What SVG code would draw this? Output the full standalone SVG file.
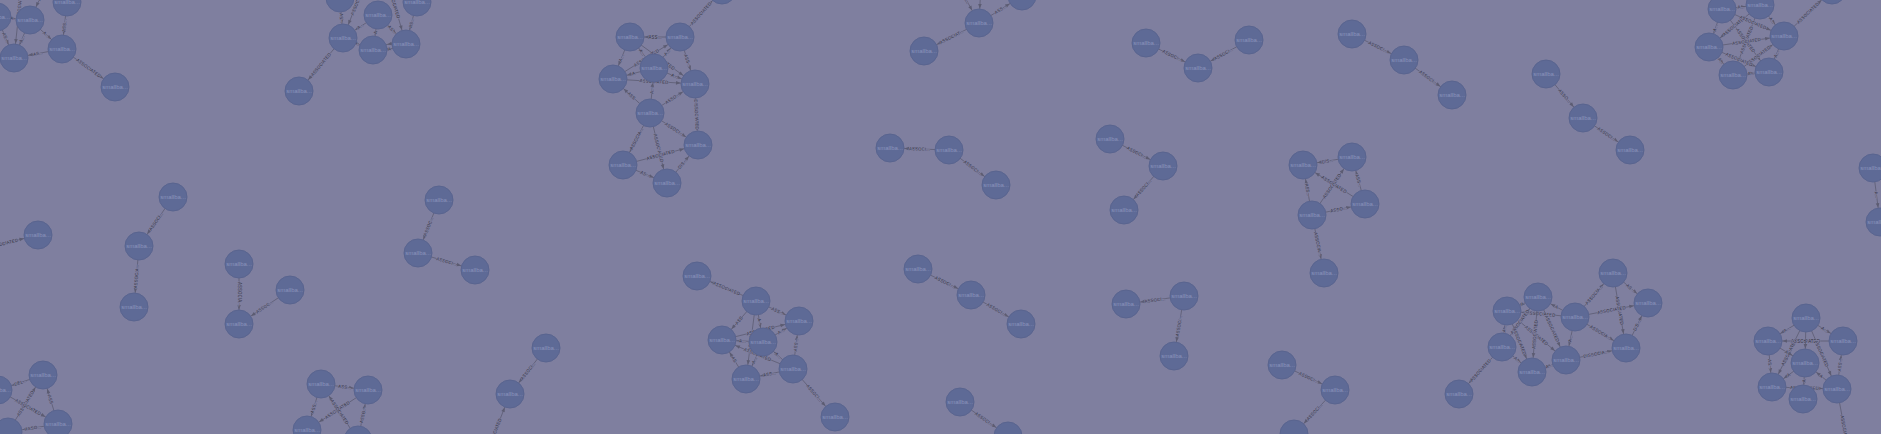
<svg xmlns="http://www.w3.org/2000/svg" width="1881" height="434" viewBox="0 0 1881 434">
<style>
.ln{fill:none;stroke:#5c5c72;stroke-width:0.8}
.el{font-family:"Liberation Sans",Arial,sans-serif;font-size:4.5px;fill:#33333f;text-anchor:middle;stroke:#7f7f9f;stroke-width:1.4px;paint-order:stroke}
.nd circle{fill:#5e6a96;stroke:#59648f;stroke-width:1}
.nd text{font-family:"Liberation Sans",Arial,sans-serif;font-size:6px;fill:#8b94bc;text-anchor:middle}
</style>
<defs>
<marker id="a" markerUnits="userSpaceOnUse" markerWidth="30" markerHeight="10" refX="19" refY="0" orient="auto-start-reverse" style="overflow:visible"><path d="M0,-1.8 L4.5,0 L0,1.8 z" fill="#5c5c72"/></marker>
</defs>
<rect x="0" y="0" width="1881" height="434" fill="#7f7f9f"/>
<g id="connectors">
<path id="e1" class="ln" d="M62 49 L115 87" marker-end="url(#a)"/><text class="el" dy="1.5"><textPath href="#e1" startOffset="50%">ASSOCIATED</textPath></text>
<path id="e2" class="ln" d="M14 58 L62 49" marker-start="url(#a)"/><text class="el" dy="1.5"><textPath href="#e2" startOffset="50%">AS...</textPath></text>
<path id="e3" class="ln" d="M62 49 L67 2" marker-start="url(#a)"/><text class="el" dy="1.5"><textPath href="#e3" startOffset="50%">ASS...</textPath></text>
<path id="e4" class="ln" d="M14 58 L30 20" marker-start="url(#a)"/><text class="el" dy="1.5"><textPath href="#e4" startOffset="50%">A...</textPath></text>
<path id="e5" class="ln" d="M30 20 L62 49" marker-end="url(#a)"/><text class="el" dy="1.5"><textPath href="#e5" startOffset="50%">A...</textPath></text>
<path id="e6" class="ln" d="M-3 17 L14 58" marker-end="url(#a)"/><text class="el" dy="1.5"><textPath href="#e6" startOffset="50%">AS...</textPath></text>
<path id="e7" class="ln" d="M-3 17 L30 20" marker-end="url(#a)"/><text class="el" dy="1.5"><textPath href="#e7" startOffset="50%">A...</textPath></text>
<path id="e8" class="ln" d="M14 58 L25 -45" marker-start="url(#a)"/><text class="el" dy="1.5"><textPath href="#e8" startOffset="50%">ASSOCIATED</textPath></text>
<path id="e9" class="ln" d="M30 20 L60 -45" marker-start="url(#a)"/><text class="el" dy="1.5"><textPath href="#e9" startOffset="50%">ASSOCIATED</textPath></text>
<path id="e10" class="ln" d="M299 91 L343 38" marker-start="url(#a)"/><text class="el" dy="1.5"><textPath href="#e10" startOffset="50%">ASSOCIATED</textPath></text>
<path id="e11" class="ln" d="M340 -2 L343 38" marker-end="url(#a)"/><text class="el" dy="1.5"><textPath href="#e11" startOffset="50%">AS...</textPath></text>
<path id="e12" class="ln" d="M343 38 L378 15" marker-start="url(#a)"/><text class="el" dy="1.5"><textPath href="#e12" startOffset="50%">A...</textPath></text>
<path id="e13" class="ln" d="M373 50 L378 15" marker-start="url(#a)"/><text class="el" dy="1.5"><textPath href="#e13" startOffset="50%">A</textPath></text>
<path id="e14" class="ln" d="M343 38 L373 50" marker-end="url(#a)"/><text class="el" dy="1.5"><textPath href="#e14" startOffset="50%">A...</textPath></text>
<path id="e15" class="ln" d="M383 -35 L406 44" marker-end="url(#a)"/><text class="el" dy="1.5"><textPath href="#e15" startOffset="50%">ASSOCIATED</textPath></text>
<path id="e16" class="ln" d="M406 44 L417 2" marker-start="url(#a)"/><text class="el" dy="1.5"><textPath href="#e16" startOffset="50%">AS...</textPath></text>
<path id="e17" class="ln" d="M373 52 L406 46" marker-end="url(#a)"/><text class="el" dy="1.5"><textPath href="#e17" startOffset="50%">A</textPath></text>
<path id="e18" class="ln" d="M373 47 L406 41" marker-start="url(#a)"/>
<path id="e19" class="ln" d="M343 38 L372 -35" marker-start="url(#a)"/><text class="el" dy="1.5"><textPath href="#e19" startOffset="50%">ASSOCIATED</textPath></text>
<path id="e19b" class="ln" d="M378 15 L406 44" marker-end="url(#a)"/><text class="el" dy="1.5"><textPath href="#e19b" startOffset="50%">AS...</textPath></text>
<path id="e20" class="ln" d="M630 37 L680 37" marker-start="url(#a)"/><text class="el" dy="1.5"><textPath href="#e20" startOffset="50%">ASS...</textPath></text>
<path id="e21" class="ln" d="M680 37 L722 -10" marker-end="url(#a)"/><text class="el" dy="1.5"><textPath href="#e21" startOffset="50%">ASSOCIATED</textPath></text>
<path id="e22" class="ln" d="M680 37 L695 84" marker-end="url(#a)"/><text class="el" dy="1.5"><textPath href="#e22" startOffset="50%">ASS...</textPath></text>
<path id="e23" class="ln" d="M613 79 L630 37" marker-start="url(#a)"/><text class="el" dy="1.5"><textPath href="#e23" startOffset="50%">A...</textPath></text>
<path id="e24" class="ln" d="M630 37 L654 68" marker-start="url(#a)"/><text class="el" dy="1.5"><textPath href="#e24" startOffset="50%">A...</textPath></text>
<path id="e25" class="ln" d="M613 79 L654 68" marker-start="url(#a)"/><text class="el" dy="1.5"><textPath href="#e25" startOffset="50%">A</textPath></text>
<path id="e26" class="ln" d="M654 68 L695 84" marker-end="url(#a)"/><text class="el" dy="1.5"><textPath href="#e26" startOffset="50%">A...</textPath></text>
<path id="e27" class="ln" d="M654 68 L680 37" marker-end="url(#a)"/><text class="el" dy="1.5"><textPath href="#e27" startOffset="50%">A...</textPath></text>
<path id="e28" class="ln" d="M613 79 L650 113" marker-start="url(#a)"/><text class="el" dy="1.5"><textPath href="#e28" startOffset="50%">ASS</textPath></text>
<path id="e29" class="ln" d="M650 113 L695 84" marker-end="url(#a)"/><text class="el" dy="1.5"><textPath href="#e29" startOffset="50%">ASSO...</textPath></text>
<path id="e30" class="ln" d="M650 113 L654 68" marker-end="url(#a)"/><text class="el" dy="1.5"><textPath href="#e30" startOffset="50%">A...</textPath></text>
<path id="e31" class="ln" d="M695 84 L698 145" marker-end="url(#a)"/><text class="el" dy="1.5"><textPath href="#e31" startOffset="50%">DISSOCIATED</textPath></text>
<path id="e32" class="ln" d="M650 113 L698 145" marker-end="url(#a)"/><text class="el" dy="1.5"><textPath href="#e32" startOffset="50%">ASSOCI...</textPath></text>
<path id="e33" class="ln" d="M623 165 L650 113" marker-start="url(#a)"/><text class="el" dy="1.5"><textPath href="#e33" startOffset="50%">ASSOCIA...</textPath></text>
<path id="e34" class="ln" d="M650 113 L667 183" marker-end="url(#a)"/><text class="el" dy="1.5"><textPath href="#e34" startOffset="50%">ASSOCIATED</textPath></text>
<path id="e35" class="ln" d="M623 165 L698 145" marker-end="url(#a)"/><text class="el" dy="1.5"><textPath href="#e35" startOffset="50%">ASSOCIATED</textPath></text>
<path id="e36" class="ln" d="M623 165 L667 183" marker-end="url(#a)"/><text class="el" dy="1.5"><textPath href="#e36" startOffset="50%">AS...</textPath></text>
<path id="e37" class="ln" d="M667 183 L698 145" marker-end="url(#a)"/><text class="el" dy="1.5"><textPath href="#e37" startOffset="50%">DIS...</textPath></text>
<path id="e38" class="ln" d="M613 79 L680 37" marker-end="url(#a)"/><text class="el" dy="1.5"><textPath href="#e38" startOffset="50%">ASSOCIATED</textPath></text>
<path id="e39" class="ln" d="M613 79 L695 84" marker-end="url(#a)"/><text class="el" dy="1.5"><textPath href="#e39" startOffset="50%">ASSOCIATED</textPath></text>
<path id="e39b" class="ln" d="M630 37 L695 84" marker-end="url(#a)"/><text class="el" dy="1.5"><textPath href="#e39b" startOffset="50%">ASSOCIATED</textPath></text>
<path id="e40" class="ln" d="M924 51 L979 23" marker-start="url(#a)"/><text class="el" dy="1.5"><textPath href="#e40" startOffset="50%">ASSOCIAT...</textPath></text>
<path id="e41" class="ln" d="M979 23 L1022 -4" marker-end="url(#a)"/><text class="el" dy="1.5"><textPath href="#e41" startOffset="50%">ASS...</textPath></text>
<path id="e42" class="ln" d="M979 23 L982 -35" marker-start="url(#a)"/><text class="el" dy="1.5"><textPath href="#e42" startOffset="50%">A...</textPath></text>
<path id="e43" class="ln" d="M950 -30 L979 23" marker-end="url(#a)"/><text class="el" dy="1.5"><textPath href="#e43" startOffset="50%">ASSO...</textPath></text>
<path id="e44" class="ln" d="M1146 43 L1198 68" marker-end="url(#a)"/><text class="el" dy="1.5"><textPath href="#e44" startOffset="50%">ASSOCI...</textPath></text>
<path id="e45" class="ln" d="M1198 68 L1249 40" marker-start="url(#a)"/><text class="el" dy="1.5"><textPath href="#e45" startOffset="50%">ASSOCI...</textPath></text>
<path id="e46" class="ln" d="M1352 34 L1404 60" marker-end="url(#a)"/><text class="el" dy="1.5"><textPath href="#e46" startOffset="50%">ASSOCI...</textPath></text>
<path id="e47" class="ln" d="M1404 60 L1452 95" marker-end="url(#a)"/><text class="el" dy="1.5"><textPath href="#e47" startOffset="50%">ASSOCI...</textPath></text>
<path id="e48" class="ln" d="M1546 74 L1583 118" marker-end="url(#a)"/><text class="el" dy="1.5"><textPath href="#e48" startOffset="50%">ASSO...</textPath></text>
<path id="e49" class="ln" d="M1583 118 L1630 150" marker-end="url(#a)"/><text class="el" dy="1.5"><textPath href="#e49" startOffset="50%">ASSOCI...</textPath></text>
<path id="e50" class="ln" d="M1722 9 L1760 5" marker-end="url(#a)"/><text class="el" dy="1.5"><textPath href="#e50" startOffset="50%">A...</textPath></text>
<path id="e51" class="ln" d="M1709 47 L1722 9" marker-start="url(#a)"/><text class="el" dy="1.5"><textPath href="#e51" startOffset="50%">A...</textPath></text>
<path id="e52" class="ln" d="M1769 72 L1784 36" marker-start="url(#a)"/><text class="el" dy="1.5"><textPath href="#e52" startOffset="50%">A...</textPath></text>
<path id="e53" class="ln" d="M1709 47 L1733 75" marker-end="url(#a)"/><text class="el" dy="1.5"><textPath href="#e53" startOffset="50%">A...</textPath></text>
<path id="e54" class="ln" d="M1733 75 L1769 72" marker-end="url(#a)"/><text class="el" dy="1.5"><textPath href="#e54" startOffset="50%">A...</textPath></text>
<path id="e55" class="ln" d="M1784 36 L1832 -10" marker-end="url(#a)"/><text class="el" dy="1.5"><textPath href="#e55" startOffset="50%">ASSOCIATED</textPath></text>
<path id="e56" class="ln" d="M1733 75 L1760 5" marker-start="url(#a)"/><text class="el" dy="1.5"><textPath href="#e56" startOffset="50%">ASSOCIATED</textPath></text>
<path id="e57" class="ln" d="M1722 9 L1769 72" marker-end="url(#a)"/><text class="el" dy="1.5"><textPath href="#e57" startOffset="50%">ASSOCIATED</textPath></text>
<path id="e58" class="ln" d="M1709 47 L1784 36" marker-end="url(#a)"/><text class="el" dy="1.5"><textPath href="#e58" startOffset="50%">ASSOCIATED</textPath></text>
<path id="e59" class="ln" d="M1709 47 L1760 5" marker-start="url(#a)"/><text class="el" dy="1.5"><textPath href="#e59" startOffset="50%">ASSOCIATED</textPath></text>
<path id="e60" class="ln" d="M1722 9 L1784 36" marker-end="url(#a)"/><text class="el" dy="1.5"><textPath href="#e60" startOffset="50%">ASSOCIATED</textPath></text>
<path id="e61" class="ln" d="M1733 75 L1784 36" marker-end="url(#a)"/><text class="el" dy="1.5"><textPath href="#e61" startOffset="50%">ASSOCIATED</textPath></text>
<path id="e62" class="ln" d="M1709 47 L1769 72" marker-end="url(#a)"/><text class="el" dy="1.5"><textPath href="#e62" startOffset="50%">ASSOCIATED</textPath></text>
<path id="e63" class="ln" d="M1760 5 L1784 36" marker-end="url(#a)"/><text class="el" dy="1.5"><textPath href="#e63" startOffset="50%">A...</textPath></text>
<path id="e64" class="ln" d="M1873 168 L1880 222" marker-end="url(#a)"/><text class="el" dy="1.5"><textPath href="#e64" startOffset="50%">A...</textPath></text>
<path id="e65" class="ln" d="M-30 252 L38 235" marker-end="url(#a)"/><text class="el" dy="1.5"><textPath href="#e65" startOffset="50%">ASSOCIATED</textPath></text>
<path id="e66" class="ln" d="M139 246 L173 197" marker-start="url(#a)"/><text class="el" dy="1.5"><textPath href="#e66" startOffset="50%">ASSOCI...</textPath></text>
<path id="e67" class="ln" d="M134 307 L139 246" marker-start="url(#a)"/><text class="el" dy="1.5"><textPath href="#e67" startOffset="50%">ASSOCIA...</textPath></text>
<path id="e68" class="ln" d="M239 264 L239 324" marker-end="url(#a)"/><text class="el" dy="1.5"><textPath href="#e68" startOffset="50%">ASSOCIA...</textPath></text>
<path id="e69" class="ln" d="M239 324 L290 290" marker-start="url(#a)"/><text class="el" dy="1.5"><textPath href="#e69" startOffset="50%">ASSOC...</textPath></text>
<path id="e70" class="ln" d="M418 253 L439 200" marker-start="url(#a)"/><text class="el" dy="1.5"><textPath href="#e70" startOffset="50%">ASSOC...</textPath></text>
<path id="e71" class="ln" d="M418 253 L475 270" marker-end="url(#a)"/><text class="el" dy="1.5"><textPath href="#e71" startOffset="50%">ASSOCI...</textPath></text>
<path id="e72" class="ln" d="M890 148 L949 150" marker-start="url(#a)"/><text class="el" dy="1.5"><textPath href="#e72" startOffset="50%">ASSOCI...</textPath></text>
<path id="e73" class="ln" d="M949 150 L996 185" marker-end="url(#a)"/><text class="el" dy="1.5"><textPath href="#e73" startOffset="50%">ASSOCI...</textPath></text>
<path id="e74" class="ln" d="M1110 139 L1163 166" marker-end="url(#a)"/><text class="el" dy="1.5"><textPath href="#e74" startOffset="50%">ASSOCI...</textPath></text>
<path id="e75" class="ln" d="M1124 210 L1163 166" marker-start="url(#a)"/><text class="el" dy="1.5"><textPath href="#e75" startOffset="50%">ASSOCI...</textPath></text>
<path id="e76" class="ln" d="M1303 165 L1352 157" marker-start="url(#a)"/><text class="el" dy="1.5"><textPath href="#e76" startOffset="50%">DIS...</textPath></text>
<path id="e77" class="ln" d="M1303 165 L1312 215" marker-start="url(#a)"/><text class="el" dy="1.5"><textPath href="#e77" startOffset="50%">ASS...</textPath></text>
<path id="e78" class="ln" d="M1312 215 L1352 157" marker-end="url(#a)"/><text class="el" dy="1.5"><textPath href="#e78" startOffset="50%">ASSOCIATED</textPath></text>
<path id="e79" class="ln" d="M1303 165 L1365 204" marker-start="url(#a)"/><text class="el" dy="1.5"><textPath href="#e79" startOffset="50%">ASSOCIATED</textPath></text>
<path id="e80" class="ln" d="M1312 215 L1365 204" marker-end="url(#a)"/><text class="el" dy="1.5"><textPath href="#e80" startOffset="50%">ASSO...</textPath></text>
<path id="e81" class="ln" d="M1352 157 L1365 204" marker-start="url(#a)"/><text class="el" dy="1.5"><textPath href="#e81" startOffset="50%">ASS...</textPath></text>
<path id="e82" class="ln" d="M1312 215 L1324 273" marker-end="url(#a)"/><text class="el" dy="1.5"><textPath href="#e82" startOffset="50%">ASSOCIA...</textPath></text>
<path id="e83" class="ln" d="M-2 390 L43 375" marker-start="url(#a)"/><text class="el" dy="1.5"><textPath href="#e83" startOffset="50%">DEL...</textPath></text>
<path id="e84" class="ln" d="M43 375 L58 424" marker-start="url(#a)"/><text class="el" dy="1.5"><textPath href="#e84" startOffset="50%">ASS</textPath></text>
<path id="e85" class="ln" d="M8 432 L43 375" marker-end="url(#a)"/><text class="el" dy="1.5"><textPath href="#e85" startOffset="50%">ASSOCIATED</textPath></text>
<path id="e86" class="ln" d="M-2 390 L58 424" marker-end="url(#a)"/><text class="el" dy="1.5"><textPath href="#e86" startOffset="50%">ASSOCIATED</textPath></text>
<path id="e87" class="ln" d="M8 432 L58 424" marker-start="url(#a)"/><text class="el" dy="1.5"><textPath href="#e87" startOffset="50%">ASSO...</textPath></text>
<path id="e88" class="ln" d="M321 384 L368 390" marker-end="url(#a)"/><text class="el" dy="1.5"><textPath href="#e88" startOffset="50%">ASS...</textPath></text>
<path id="e89" class="ln" d="M307 430 L368 390" marker-start="url(#a)"/><text class="el" dy="1.5"><textPath href="#e89" startOffset="50%">ASSOCIATED</textPath></text>
<path id="e90" class="ln" d="M321 384 L358 440" marker-start="url(#a)"/><text class="el" dy="1.5"><textPath href="#e90" startOffset="50%">ASSOCIATED</textPath></text>
<path id="e91" class="ln" d="M307 430 L321 384" marker-start="url(#a)"/><text class="el" dy="1.5"><textPath href="#e91" startOffset="50%">ASS...</textPath></text>
<path id="e92" class="ln" d="M358 440 L368 390" marker-end="url(#a)"/><text class="el" dy="1.5"><textPath href="#e92" startOffset="50%">ASSO...</textPath></text>
<path id="e93" class="ln" d="M510 394 L546 348" marker-start="url(#a)"/><text class="el" dy="1.5"><textPath href="#e93" startOffset="50%">ASSOCI...</textPath></text>
<path id="e94" class="ln" d="M480 470 L510 394" marker-end="url(#a)"/><text class="el" dy="1.5"><textPath href="#e94" startOffset="50%">ASSOCIATED</textPath></text>
<path id="e95" class="ln" d="M697 276 L756 301" marker-start="url(#a)"/><text class="el" dy="1.5"><textPath href="#e95" startOffset="50%">ASSOCIATED</textPath></text>
<path id="e96" class="ln" d="M756 301 L799 321" marker-end="url(#a)"/><text class="el" dy="1.5"><textPath href="#e96" startOffset="50%">ASS...</textPath></text>
<path id="e97" class="ln" d="M722 340 L756 301" marker-start="url(#a)"/><text class="el" dy="1.5"><textPath href="#e97" startOffset="50%">ASS</textPath></text>
<path id="e98" class="ln" d="M793 369 L835 417" marker-end="url(#a)"/><text class="el" dy="1.5"><textPath href="#e98" startOffset="50%">ASSOCI...</textPath></text>
<path id="e99" class="ln" d="M746 379 L793 369" marker-start="url(#a)"/><text class="el" dy="1.5"><textPath href="#e99" startOffset="50%">ASS...</textPath></text>
<path id="e100" class="ln" d="M793 369 L799 321" marker-end="url(#a)"/><text class="el" dy="1.5"><textPath href="#e100" startOffset="50%">ASS...</textPath></text>
<path id="e101" class="ln" d="M722 340 L746 379" marker-start="url(#a)"/><text class="el" dy="1.5"><textPath href="#e101" startOffset="50%">AS</textPath></text>
<path id="e102" class="ln" d="M756 301 L763 342" marker-end="url(#a)"/><text class="el" dy="1.5"><textPath href="#e102" startOffset="50%">A...</textPath></text>
<path id="e103" class="ln" d="M722 340 L763 342" marker-start="url(#a)"/><text class="el" dy="1.5"><textPath href="#e103" startOffset="50%">A...</textPath></text>
<path id="e104" class="ln" d="M763 342 L799 321" marker-end="url(#a)"/><text class="el" dy="1.5"><textPath href="#e104" startOffset="50%">A...</textPath></text>
<path id="e105" class="ln" d="M746 379 L763 342" marker-start="url(#a)"/><text class="el" dy="1.5"><textPath href="#e105" startOffset="50%">A...</textPath></text>
<path id="e106" class="ln" d="M763 342 L793 369" marker-start="url(#a)"/><text class="el" dy="1.5"><textPath href="#e106" startOffset="50%">A...</textPath></text>
<path id="e107" class="ln" d="M746 379 L756 301" marker-start="url(#a)"/><text class="el" dy="1.5"><textPath href="#e107" startOffset="50%">ASSOCI...</textPath></text>
<path id="e108" class="ln" d="M722 340 L793 369" marker-start="url(#a)"/><text class="el" dy="1.5"><textPath href="#e108" startOffset="50%">ASSOCIATED</textPath></text>
<path id="e109" class="ln" d="M722 340 L799 321" marker-end="url(#a)"/><text class="el" dy="1.5"><textPath href="#e109" startOffset="50%">ASSOCIATED</textPath></text>
<path id="e110" class="ln" d="M918 269 L971 295" marker-end="url(#a)"/><text class="el" dy="1.5"><textPath href="#e110" startOffset="50%">ASSOCI...</textPath></text>
<path id="e111" class="ln" d="M971 295 L1021 324" marker-end="url(#a)"/><text class="el" dy="1.5"><textPath href="#e111" startOffset="50%">ASSOCI...</textPath></text>
<path id="e112" class="ln" d="M960 402 L1008 436" marker-end="url(#a)"/><text class="el" dy="1.5"><textPath href="#e112" startOffset="50%">ASSOCI...</textPath></text>
<path id="e113" class="ln" d="M1126 304 L1184 296" marker-start="url(#a)"/><text class="el" dy="1.5"><textPath href="#e113" startOffset="50%">ASSOCI...</textPath></text>
<path id="e114" class="ln" d="M1174 356 L1184 296" marker-start="url(#a)"/><text class="el" dy="1.5"><textPath href="#e114" startOffset="50%">ASSOCI...</textPath></text>
<path id="e115" class="ln" d="M1282 365 L1335 390" marker-end="url(#a)"/><text class="el" dy="1.5"><textPath href="#e115" startOffset="50%">ASSOCI...</textPath></text>
<path id="e116" class="ln" d="M1294 434 L1335 390" marker-start="url(#a)"/><text class="el" dy="1.5"><textPath href="#e116" startOffset="50%">ASSOCI...</textPath></text>
<path id="e117" class="ln" d="M1575 317 L1613 273" marker-end="url(#a)"/><text class="el" dy="1.5"><textPath href="#e117" startOffset="50%">ASSOCIA...</textPath></text>
<path id="e118" class="ln" d="M1613 273 L1648 303" marker-end="url(#a)"/><text class="el" dy="1.5"><textPath href="#e118" startOffset="50%">AS...</textPath></text>
<path id="e119" class="ln" d="M1613 273 L1626 348" marker-end="url(#a)"/><text class="el" dy="1.5"><textPath href="#e119" startOffset="50%">ASSOCIATED</textPath></text>
<path id="e120" class="ln" d="M1575 317 L1648 303" marker-end="url(#a)"/><text class="el" dy="1.5"><textPath href="#e120" startOffset="50%">ASSOCIATED</textPath></text>
<path id="e121" class="ln" d="M1575 317 L1626 348" marker-end="url(#a)"/><text class="el" dy="1.5"><textPath href="#e121" startOffset="50%">ASSOCIA...</textPath></text>
<path id="e122" class="ln" d="M1626 348 L1648 303" marker-end="url(#a)"/><text class="el" dy="1.5"><textPath href="#e122" startOffset="50%">DIS...</textPath></text>
<path id="e123" class="ln" d="M1566 360 L1626 348" marker-end="url(#a)"/><text class="el" dy="1.5"><textPath href="#e123" startOffset="50%">DISSOCIA...</textPath></text>
<path id="e124" class="ln" d="M1538 297 L1575 317" marker-start="url(#a)"/><text class="el" dy="1.5"><textPath href="#e124" startOffset="50%">A</textPath></text>
<path id="e125" class="ln" d="M1507 311 L1575 317" marker-start="url(#a)"/><text class="el" dy="1.5"><textPath href="#e125" startOffset="50%">ASSOCIATED</textPath></text>
<path id="e126" class="ln" d="M1566 360 L1575 317" marker-start="url(#a)"/><text class="el" dy="1.5"><textPath href="#e126" startOffset="50%">A...</textPath></text>
<path id="e127" class="ln" d="M1502 347 L1507 311" marker-end="url(#a)"/><text class="el" dy="1.5"><textPath href="#e127" startOffset="50%">A...</textPath></text>
<path id="e128" class="ln" d="M1502 347 L1532 372" marker-end="url(#a)"/><text class="el" dy="1.5"><textPath href="#e128" startOffset="50%">A...</textPath></text>
<path id="e129" class="ln" d="M1532 372 L1566 360" marker-start="url(#a)"/><text class="el" dy="1.5"><textPath href="#e129" startOffset="50%">A...</textPath></text>
<path id="e130" class="ln" d="M1459 394 L1502 347" marker-start="url(#a)"/><text class="el" dy="1.5"><textPath href="#e130" startOffset="50%">ASSOCIATED</textPath></text>
<path id="e131" class="ln" d="M1507 311 L1566 360" marker-end="url(#a)"/><text class="el" dy="1.5"><textPath href="#e131" startOffset="50%">ASSOCIATED</textPath></text>
<path id="e132" class="ln" d="M1532 372 L1538 297" marker-start="url(#a)"/><text class="el" dy="1.5"><textPath href="#e132" startOffset="50%">ASSOCIATED</textPath></text>
<path id="e133" class="ln" d="M1538 297 L1566 360" marker-end="url(#a)"/><text class="el" dy="1.5"><textPath href="#e133" startOffset="50%">ASSOCIATED</textPath></text>
<path id="e134" class="ln" d="M1502 347 L1538 297" marker-end="url(#a)"/><text class="el" dy="1.5"><textPath href="#e134" startOffset="50%">ASSOCIATED</textPath></text>
<path id="e135" class="ln" d="M1507 311 L1532 372" marker-end="url(#a)"/><text class="el" dy="1.5"><textPath href="#e135" startOffset="50%">ASSOCIATED</textPath></text>
<path id="e136" class="ln" d="M1507 311 L1538 297" marker-end="url(#a)"/><text class="el" dy="1.5"><textPath href="#e136" startOffset="50%">A</textPath></text>
<path id="e137" class="ln" d="M1768 341 L1806 318" marker-start="url(#a)"/><text class="el" dy="1.5"><textPath href="#e137" startOffset="50%">A...</textPath></text>
<path id="e138" class="ln" d="M1806 318 L1843 341" marker-end="url(#a)"/><text class="el" dy="1.5"><textPath href="#e138" startOffset="50%">A...</textPath></text>
<path id="e139" class="ln" d="M1768 341 L1843 341" marker-start="url(#a)"/><text class="el" dy="1.5"><textPath href="#e139" startOffset="50%">ASSOCIATED</textPath></text>
<path id="e140" class="ln" d="M1768 341 L1772 387" marker-end="url(#a)"/><text class="el" dy="1.5"><textPath href="#e140" startOffset="50%">AS...</textPath></text>
<path id="e141" class="ln" d="M1837 389 L1843 341" marker-end="url(#a)"/><text class="el" dy="1.5"><textPath href="#e141" startOffset="50%">ASS...</textPath></text>
<path id="e142" class="ln" d="M1805 363 L1806 318" marker-start="url(#a)"/><text class="el" dy="1.5"><textPath href="#e142" startOffset="50%">A</textPath></text>
<path id="e143" class="ln" d="M1772 387 L1806 318" marker-start="url(#a)"/><text class="el" dy="1.5"><textPath href="#e143" startOffset="50%">ASSOCIATED</textPath></text>
<path id="e144" class="ln" d="M1806 318 L1837 389" marker-end="url(#a)"/><text class="el" dy="1.5"><textPath href="#e144" startOffset="50%">ASSOCIATED</textPath></text>
<path id="e145" class="ln" d="M1772 387 L1837 389" marker-end="url(#a)"/><text class="el" dy="1.5"><textPath href="#e145" startOffset="50%">ASSOCIATED</textPath></text>
<path id="e146" class="ln" d="M1772 387 L1805 363" marker-start="url(#a)"/><text class="el" dy="1.5"><textPath href="#e146" startOffset="50%">A</textPath></text>
<path id="e147" class="ln" d="M1803 399 L1805 363" marker-start="url(#a)"/><text class="el" dy="1.5"><textPath href="#e147" startOffset="50%">A</textPath></text>
<path id="e148" class="ln" d="M1805 363 L1837 389" marker-start="url(#a)"/><text class="el" dy="1.5"><textPath href="#e148" startOffset="50%">A</textPath></text>
<path id="e149" class="ln" d="M1837 389 L1852 470" marker-end="url(#a)"/><text class="el" dy="1.5"><textPath href="#e149" startOffset="50%">ASSOCIATED</textPath></text>
<path id="e150" class="ln" d="M1768 341 L1805 363" marker-end="url(#a)"/><text class="el" dy="1.5"><textPath href="#e150" startOffset="50%">A</textPath></text>
</g>
<g id="nodes">
<g id="a1" class="nd"><circle cx="30" cy="20" r="14"/><text x="30" y="22">smallba...</text></g>
<g id="a2" class="nd"><circle cx="67" cy="2" r="14"/><text x="67" y="4">smallba...</text></g>
<g id="a3" class="nd"><circle cx="14" cy="58" r="14"/><text x="14" y="60">smallba...</text></g>
<g id="a4" class="nd"><circle cx="62" cy="49" r="14"/><text x="62" y="51">smallba...</text></g>
<g id="a5" class="nd"><circle cx="115" cy="87" r="14"/><text x="115" y="89">smallba...</text></g>
<g id="a6" class="nd"><circle cx="-3" cy="17" r="14"/><text x="-3" y="19">smallba...</text></g>
<g id="b1" class="nd"><circle cx="340" cy="-2" r="14"/><text x="340" y="0">smallba...</text></g>
<g id="b2" class="nd"><circle cx="378" cy="15" r="14"/><text x="378" y="17">smallba...</text></g>
<g id="b3" class="nd"><circle cx="417" cy="2" r="14"/><text x="417" y="4">smallba...</text></g>
<g id="b4" class="nd"><circle cx="343" cy="38" r="14"/><text x="343" y="40">smallba...</text></g>
<g id="b5" class="nd"><circle cx="373" cy="50" r="14"/><text x="373" y="52">smallba...</text></g>
<g id="b6" class="nd"><circle cx="406" cy="44" r="14"/><text x="406" y="46">smallba...</text></g>
<g id="b7" class="nd"><circle cx="299" cy="91" r="14"/><text x="299" y="93">smallba...</text></g>
<g id="c1" class="nd"><circle cx="630" cy="37" r="14"/><text x="630" y="39">smallba...</text></g>
<g id="c2" class="nd"><circle cx="680" cy="37" r="14"/><text x="680" y="39">smallba...</text></g>
<g id="c3" class="nd"><circle cx="654" cy="68" r="14"/><text x="654" y="70">smallba...</text></g>
<g id="c4" class="nd"><circle cx="613" cy="79" r="14"/><text x="613" y="81">smallba...</text></g>
<g id="c5" class="nd"><circle cx="695" cy="84" r="14"/><text x="695" y="86">smallba...</text></g>
<g id="c6" class="nd"><circle cx="650" cy="113" r="14"/><text x="650" y="115">smallba...</text></g>
<g id="c7" class="nd"><circle cx="698" cy="145" r="14"/><text x="698" y="147">smallba...</text></g>
<g id="c8" class="nd"><circle cx="623" cy="165" r="14"/><text x="623" y="167">smallba...</text></g>
<g id="c9" class="nd"><circle cx="667" cy="183" r="14"/><text x="667" y="185">smallba...</text></g>
<g id="c10" class="nd"><circle cx="722" cy="-10" r="14"/></g>
<g id="d1" class="nd"><circle cx="924" cy="51" r="14"/><text x="924" y="53">smallba...</text></g>
<g id="d2" class="nd"><circle cx="979" cy="23" r="14"/><text x="979" y="25">smallba...</text></g>
<g id="d3" class="nd"><circle cx="1022" cy="-4" r="14"/><text x="1022" y="-2">smallba...</text></g>
<g id="e1n" class="nd"><circle cx="1146" cy="43" r="14"/><text x="1146" y="45">smallba...</text></g>
<g id="e2n" class="nd"><circle cx="1198" cy="68" r="14"/><text x="1198" y="70">smallba...</text></g>
<g id="e3n" class="nd"><circle cx="1249" cy="40" r="14"/><text x="1249" y="42">smallba...</text></g>
<g id="f1" class="nd"><circle cx="1352" cy="34" r="14"/><text x="1352" y="36">smallba...</text></g>
<g id="f2" class="nd"><circle cx="1404" cy="60" r="14"/><text x="1404" y="62">smallba...</text></g>
<g id="f3" class="nd"><circle cx="1452" cy="95" r="14"/><text x="1452" y="97">smallba...</text></g>
<g id="g1" class="nd"><circle cx="1546" cy="74" r="14"/><text x="1546" y="76">smallba...</text></g>
<g id="g2" class="nd"><circle cx="1583" cy="118" r="14"/><text x="1583" y="120">smallba...</text></g>
<g id="g3" class="nd"><circle cx="1630" cy="150" r="14"/><text x="1630" y="152">smallba...</text></g>
<g id="h1" class="nd"><circle cx="1722" cy="9" r="14"/><text x="1722" y="11">smallba...</text></g>
<g id="h2" class="nd"><circle cx="1760" cy="5" r="14"/><text x="1760" y="7">smallba...</text></g>
<g id="h3" class="nd"><circle cx="1784" cy="36" r="14"/><text x="1784" y="38">smallba...</text></g>
<g id="h4" class="nd"><circle cx="1709" cy="47" r="14"/><text x="1709" y="49">smallba...</text></g>
<g id="h5" class="nd"><circle cx="1733" cy="75" r="14"/><text x="1733" y="77">smallba...</text></g>
<g id="h6" class="nd"><circle cx="1769" cy="72" r="14"/><text x="1769" y="74">smallba...</text></g>
<g id="h7" class="nd"><circle cx="1832" cy="-10" r="14"/></g>
<g id="i1" class="nd"><circle cx="1873" cy="168" r="14"/><text x="1873" y="170">smallba...</text></g>
<g id="i2" class="nd"><circle cx="1880" cy="222" r="14"/><text x="1880" y="224">smallba...</text></g>
<g id="m1" class="nd"><circle cx="38" cy="235" r="14"/><text x="38" y="237">smallba...</text></g>
<g id="n1" class="nd"><circle cx="173" cy="197" r="14"/><text x="173" y="199">smallba...</text></g>
<g id="n2" class="nd"><circle cx="139" cy="246" r="14"/><text x="139" y="248">smallba...</text></g>
<g id="n3" class="nd"><circle cx="134" cy="307" r="14"/><text x="134" y="309">smallba...</text></g>
<g id="o1" class="nd"><circle cx="239" cy="264" r="14"/><text x="239" y="266">smallba...</text></g>
<g id="o2" class="nd"><circle cx="290" cy="290" r="14"/><text x="290" y="292">smallba...</text></g>
<g id="o3" class="nd"><circle cx="239" cy="324" r="14"/><text x="239" y="326">smallba...</text></g>
<g id="p1" class="nd"><circle cx="439" cy="200" r="14"/><text x="439" y="202">smallba...</text></g>
<g id="p2" class="nd"><circle cx="418" cy="253" r="14"/><text x="418" y="255">smallba...</text></g>
<g id="p3" class="nd"><circle cx="475" cy="270" r="14"/><text x="475" y="272">smallba...</text></g>
<g id="q1" class="nd"><circle cx="890" cy="148" r="14"/><text x="890" y="150">smallba...</text></g>
<g id="q2" class="nd"><circle cx="949" cy="150" r="14"/><text x="949" y="152">smallba...</text></g>
<g id="q3" class="nd"><circle cx="996" cy="185" r="14"/><text x="996" y="187">smallba...</text></g>
<g id="r1" class="nd"><circle cx="1110" cy="139" r="14"/><text x="1110" y="141">smallba...</text></g>
<g id="r2" class="nd"><circle cx="1163" cy="166" r="14"/><text x="1163" y="168">smallba...</text></g>
<g id="r3" class="nd"><circle cx="1124" cy="210" r="14"/><text x="1124" y="212">smallba...</text></g>
<g id="s1" class="nd"><circle cx="1303" cy="165" r="14"/><text x="1303" y="167">smallba...</text></g>
<g id="s2" class="nd"><circle cx="1352" cy="157" r="14"/><text x="1352" y="159">smallba...</text></g>
<g id="s3" class="nd"><circle cx="1365" cy="204" r="14"/><text x="1365" y="206">smallba...</text></g>
<g id="s4" class="nd"><circle cx="1312" cy="215" r="14"/><text x="1312" y="217">smallba...</text></g>
<g id="s5" class="nd"><circle cx="1324" cy="273" r="14"/><text x="1324" y="275">smallba...</text></g>
<g id="t1" class="nd"><circle cx="43" cy="375" r="14"/><text x="43" y="377">smallba...</text></g>
<g id="t2" class="nd"><circle cx="-2" cy="390" r="14"/><text x="-2" y="392">smallba...</text></g>
<g id="t3" class="nd"><circle cx="58" cy="424" r="14"/><text x="58" y="426">smallba...</text></g>
<g id="t4" class="nd"><circle cx="8" cy="432" r="14"/></g>
<g id="u1" class="nd"><circle cx="321" cy="384" r="14"/><text x="321" y="386">smallba...</text></g>
<g id="u2" class="nd"><circle cx="368" cy="390" r="14"/><text x="368" y="392">smallba...</text></g>
<g id="u3" class="nd"><circle cx="307" cy="430" r="14"/><text x="307" y="432">smallba...</text></g>
<g id="u4" class="nd"><circle cx="358" cy="440" r="14"/></g>
<g id="v1" class="nd"><circle cx="546" cy="348" r="14"/><text x="546" y="350">smallba...</text></g>
<g id="v2" class="nd"><circle cx="510" cy="394" r="14"/><text x="510" y="396">smallba...</text></g>
<g id="w1" class="nd"><circle cx="697" cy="276" r="14"/><text x="697" y="278">smallba...</text></g>
<g id="w2" class="nd"><circle cx="756" cy="301" r="14"/><text x="756" y="303">smallba...</text></g>
<g id="w3" class="nd"><circle cx="799" cy="321" r="14"/><text x="799" y="323">smallba...</text></g>
<g id="w4" class="nd"><circle cx="722" cy="340" r="14"/><text x="722" y="342">smallba...</text></g>
<g id="w5" class="nd"><circle cx="763" cy="342" r="14"/><text x="763" y="344">smallba...</text></g>
<g id="w6" class="nd"><circle cx="793" cy="369" r="14"/><text x="793" y="371">smallba...</text></g>
<g id="w7" class="nd"><circle cx="746" cy="379" r="14"/><text x="746" y="381">smallba...</text></g>
<g id="w8" class="nd"><circle cx="835" cy="417" r="14"/><text x="835" y="419">smallba...</text></g>
<g id="x1" class="nd"><circle cx="918" cy="269" r="14"/><text x="918" y="271">smallba...</text></g>
<g id="x2" class="nd"><circle cx="971" cy="295" r="14"/><text x="971" y="297">smallba...</text></g>
<g id="x3" class="nd"><circle cx="1021" cy="324" r="14"/><text x="1021" y="326">smallba...</text></g>
<g id="y1" class="nd"><circle cx="960" cy="402" r="14"/><text x="960" y="404">smallba...</text></g>
<g id="y2" class="nd"><circle cx="1008" cy="436" r="14"/></g>
<g id="z1" class="nd"><circle cx="1126" cy="304" r="14"/><text x="1126" y="306">smallba...</text></g>
<g id="z2" class="nd"><circle cx="1184" cy="296" r="14"/><text x="1184" y="298">smallba...</text></g>
<g id="z3" class="nd"><circle cx="1174" cy="356" r="14"/><text x="1174" y="358">smallba...</text></g>
<g id="aa1" class="nd"><circle cx="1282" cy="365" r="14"/><text x="1282" y="367">smallba...</text></g>
<g id="aa2" class="nd"><circle cx="1335" cy="390" r="14"/><text x="1335" y="392">smallba...</text></g>
<g id="aa3" class="nd"><circle cx="1294" cy="434" r="14"/></g>
<g id="bb1" class="nd"><circle cx="1613" cy="273" r="14"/><text x="1613" y="275">smallba...</text></g>
<g id="bb2" class="nd"><circle cx="1648" cy="303" r="14"/><text x="1648" y="305">smallba...</text></g>
<g id="bb3" class="nd"><circle cx="1538" cy="297" r="14"/><text x="1538" y="299">smallba...</text></g>
<g id="bb4" class="nd"><circle cx="1507" cy="311" r="14"/><text x="1507" y="313">smallba...</text></g>
<g id="bb5" class="nd"><circle cx="1575" cy="317" r="14"/><text x="1575" y="319">smallba...</text></g>
<g id="bb6" class="nd"><circle cx="1626" cy="348" r="14"/><text x="1626" y="350">smallba...</text></g>
<g id="bb7" class="nd"><circle cx="1502" cy="347" r="14"/><text x="1502" y="349">smallba...</text></g>
<g id="bb8" class="nd"><circle cx="1566" cy="360" r="14"/><text x="1566" y="362">smallba...</text></g>
<g id="bb9" class="nd"><circle cx="1532" cy="372" r="14"/><text x="1532" y="374">smallba...</text></g>
<g id="bb10" class="nd"><circle cx="1459" cy="394" r="14"/><text x="1459" y="396">smallba...</text></g>
<g id="cc1" class="nd"><circle cx="1806" cy="318" r="14"/><text x="1806" y="320">smallba...</text></g>
<g id="cc2" class="nd"><circle cx="1768" cy="341" r="14"/><text x="1768" y="343">smallba...</text></g>
<g id="cc3" class="nd"><circle cx="1843" cy="341" r="14"/><text x="1843" y="343">smallba...</text></g>
<g id="cc4" class="nd"><circle cx="1805" cy="363" r="14"/><text x="1805" y="365">smallba...</text></g>
<g id="cc5" class="nd"><circle cx="1772" cy="387" r="14"/><text x="1772" y="389">smallba...</text></g>
<g id="cc6" class="nd"><circle cx="1837" cy="389" r="14"/><text x="1837" y="391">smallba...</text></g>
<g id="cc7" class="nd"><circle cx="1803" cy="399" r="14"/><text x="1803" y="401">smallba...</text></g>
</g>
</svg>
